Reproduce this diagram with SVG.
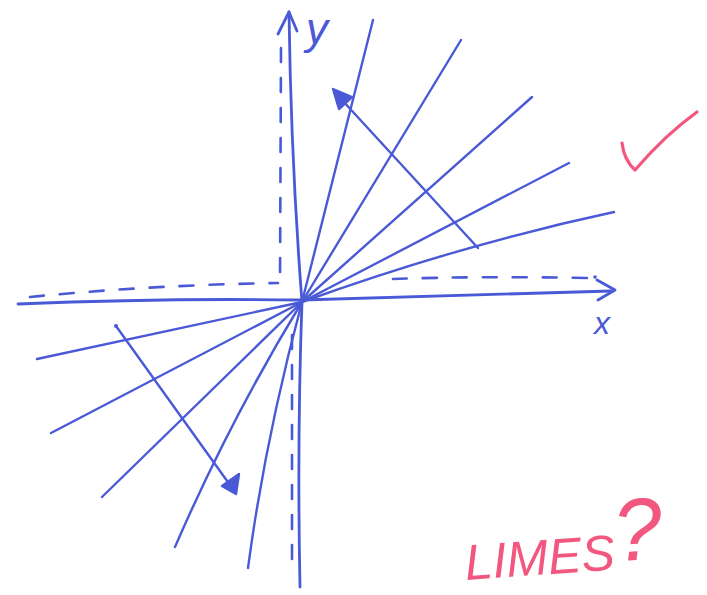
<svg xmlns="http://www.w3.org/2000/svg" width="707" height="595" viewBox="0 0 707 595">
<style>
.pen{fill:none;stroke:#4a5ad6;stroke-width:2.4;stroke-linecap:round;stroke-linejoin:round}
.axis{stroke-width:2.8}
.dash{stroke-dasharray:14 16;stroke-width:2.6}
.head{fill:#4a5ad6;stroke:#4a5ad6;stroke-width:2.4;stroke-linejoin:round}
.red{fill:none;stroke:#f2587f;stroke-width:3.2;stroke-linecap:round;stroke-linejoin:round}
.lbl{font-family:"Liberation Sans",sans-serif;font-style:italic;fill:#4a5ad6}
.rtxt{font-family:"Liberation Sans",sans-serif;font-style:italic;fill:#f2587f}
</style>
<rect width="707" height="595" fill="#ffffff"/>
<g id="axes">
  <path class="pen dash" d="M281,48 L280,285"/>
  <path class="pen dash" d="M292,335 L292,566"/>
  <path class="pen dash" d="M30,297 Q150,285 278,283"/>
  <path class="pen dash" d="M393,279 Q480,276 590,278"/>
  <circle cx="595" cy="277" r="1.8" fill="#4a5ad6"/>
  <path class="pen axis" d="M289,12 Q291,160 302,302 Q297,440 300,587"/>
  <path class="pen axis" d="M278,34 L289,12 L297,31"/>
  <path class="pen axis" d="M18,304 Q160,298 302,300 Q450,296 611,291"/>
  <path class="pen axis" d="M597,280 L615,290 L598,300"/>
</g>
<g id="connectors">
  <path class="pen" d="M302,302 L373,20"/>
  <path class="pen" d="M302,302 L461,40"/>
  <path class="pen" d="M302,302 L532,97"/>
  <path class="pen" d="M302,302 L569,163"/>
  <path class="pen" d="M302,302 Q460,245 614,212"/>
  <path class="pen" d="M302,302 L37,359"/>
  <path class="pen" d="M302,302 L51,433"/>
  <path class="pen" d="M302,302 L102,497"/>
  <path class="pen" d="M302,302 Q230,420 175,547"/>
  <path class="pen" d="M302,302 Q265,440 248,568"/>
</g>
<g id="arrow-up">
  <path class="pen" d="M478,248 L342,100"/>
  <polygon class="head" points="333,89 352,97 339,109"/>
</g>
<g id="arrow-down">
  <path class="pen" d="M116,326 L230,485"/>
  <polygon class="head" points="236,494 239,474 222,486"/>
  <circle cx="116" cy="326" r="2" fill="#4a5ad6"/>
</g>
<g id="labels">
  <text class="lbl" x="306" y="44" font-size="44">y</text>
  <text class="lbl" x="594" y="334" font-size="32">x</text>
</g>
<g id="check">
  <path class="red" d="M622,143 Q624,160 635,170 Q665,135 697,112"/>
</g>
<g id="limes">
  <text class="rtxt" x="466" y="580" font-size="50" transform="rotate(-4 466 580)">LIMES<tspan font-size="88" dy="-8">?</tspan></text>
</g>
</svg>
